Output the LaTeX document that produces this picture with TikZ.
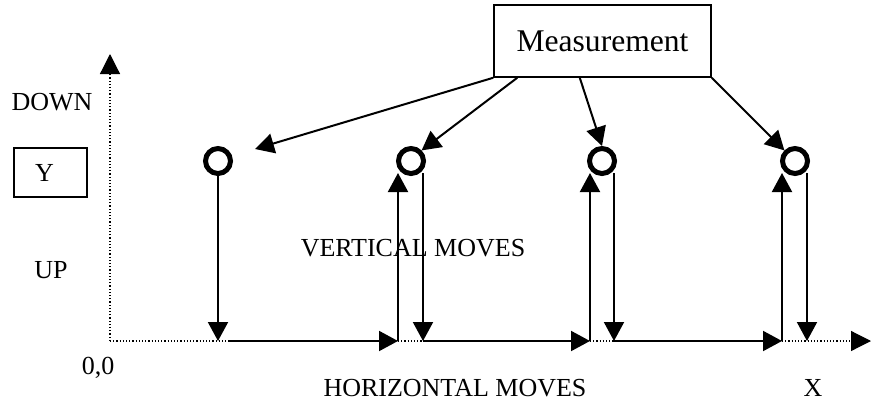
\documentclass[tikz,border=0pt]{standalone}
\usepackage{fontspec}
\setmainfont{Liberation Serif}
\usetikzlibrary{arrows.meta,calc}

\tikzset{
    move/.style = {line width = 2pt, -{Triangle[length = 19pt, width = 20pt]}},
    axisline/.style = {dotted, line width = 1.2pt, -{Triangle[length = 20pt, width = 20pt]}},
    ring/.style = {circle, draw, line width = 5pt, minimum size = 25pt, inner sep = 0pt},
    lbl/.style = {font = \fontsize{26}{30}\selectfont, inner sep = 0pt},
    labelbox/.style = {draw, line width = 1.5pt}
}

\begin{document}
\begin{tikzpicture}[x = 1pt, y = -1pt]
        \useasboundingbox (0, 0) rectangle (871, 410);
        % axes
        \coordinate (o) at (110, 341);
        \coordinate (ytip) at (110, 54);
        \coordinate (xtip) at (871, 341);
        \draw[axisline] (o) -- (ytip);
        \draw[axisline] (o) -- (xtip);
        % labels
        \node[lbl] (down) at (52, 102) {DOWN};
        \node[lbl] (up) at (51, 270) {UP};
        \node[lbl] (orig) at (98, 368) {0,0};
        \node[lbl, labelbox, minimum width = 73pt, minimum height = 49pt, text width = 31pt, inner xsep = 21pt, align = left] (ybox) at (50.5, 172.5) {Y};
        \node[lbl] (vert) at (413, 248) {VERTICAL MOVES};
        \node[lbl] (horiz) at (455, 388) {HORIZONTAL MOVES};
        \node[lbl] (xlab) at (813, 388) {X};
        \node[labelbox, font = \fontsize{31.6}{36}\selectfont, minimum width = 217pt, minimum height = 72pt] (meas) at (602.5, 41) {Measurement};
        % points
        \node[ring] (c1) at (218, 161) {};
        \node[ring] (c2) at (411, 161) {};
        \node[ring] (c3) at (602, 161) {};
        \node[ring] (c4) at (795, 161) {};
        % move ends
        \coordinate (b1) at (218, 341);
        \coordinate (h1) at (230, 341);
        \coordinate (u2) at (398, 341);
        \coordinate (u2t) at (398, 173);
        \coordinate (d2t) at (423, 173);
        \coordinate (d2) at (423, 341);
        \coordinate (u3) at (590, 341);
        \coordinate (u3t) at (590, 173);
        \coordinate (d3t) at (614, 173);
        \coordinate (d3) at (614, 341);
        \coordinate (u4) at (782, 341);
        \coordinate (u4t) at (782, 173);
        \coordinate (d4t) at (807, 173);
        \coordinate (d4) at (807, 341);
        % moves
        \draw[move] (c1.south) -- (b1);
        \draw[move] (h1) -- (u2);
        \draw[move] (u2) -- (u2t);
        \draw[move] (d2t) -- (d2);
        \draw[move] (d2) -- (u3);
        \draw[move] (u3) -- (u3t);
        \draw[move] (d3t) -- (d3);
        \draw[move] (d3) -- (u4);
        \draw[move] (u4) -- (u4t);
        \draw[move] (d4t) -- (d4);
        % measurement arrows
        \coordinate (m2) at ($(meas.south west)!0.11!(meas.south east)$);
        \coordinate (m3) at ($(meas.south west)!0.396!(meas.south east)$);
        \coordinate (t1) at (255, 149);
        \draw[move] (meas.south west) -- (t1);
        \draw[move] (m2) -- (c2.north east);
        \draw[move] (m3) -- (c3.north);
        \draw[move] (meas.south east) -- (c4.north west);
    \end{tikzpicture}
\end{document}
